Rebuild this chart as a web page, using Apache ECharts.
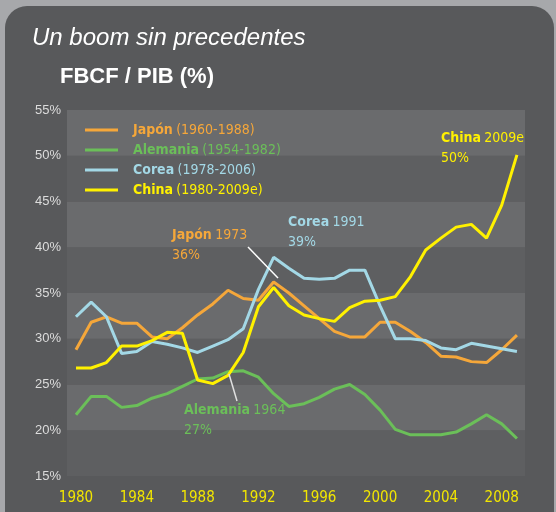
<!DOCTYPE html>
<html>
<head>
<meta charset="utf-8">
<script src="https://cdn.jsdelivr.net/npm/echarts@6/dist/echarts.min.js"></script>
<style>
  html, body { margin: 0; padding: 0; background: #a7a8ab; }
  #chart { width: 556px; height: 512px; }
</style>
</head>
<body>
<div id="chart"></div>
<script>
// FBCF / PIB (%) -- x axis is the year 1980..2009 of the chart scale
const years = [1980, 1981, 1982, 1983, 1984, 1985, 1986, 1987, 1988, 1989,
               1990, 1991, 1992, 1993, 1994, 1995, 1996, 1997, 1998, 1999,
               2000, 2001, 2002, 2003, 2004, 2005, 2006, 2007, 2008, 2009];
const japon = [28.8, 31.8, 32.4, 31.7, 31.7, 30.2, 30.0, 31.2, 32.6, 33.8,
               35.3, 34.4, 34.2, 36.2, 35.0, 33.6, 32.2, 30.8, 30.2, 30.2,
               31.8, 31.8, 30.8, 29.6, 28.1, 28.0, 27.5, 27.4, 28.8, 30.4];
const alemania = [21.7, 23.7, 23.7, 22.5, 22.7, 23.5, 24.0, 24.8, 25.6, 25.7,
                  26.4, 26.5, 25.8, 24.0, 22.6, 22.9, 23.6, 24.5, 25.0, 23.9,
                  22.2, 20.1, 19.5, 19.5, 19.5, 19.8, 20.7, 21.7, 20.7, 19.1];
const corea = [32.4, 34.0, 32.4, 28.4, 28.6, 29.7, 29.4, 29.0, 28.5, 29.2,
               29.9, 31.1, 35.4, 38.9, 37.7, 36.6, 36.5, 36.6, 37.5, 37.5,
               33.6, 30.0, 30.0, 29.8, 29.0, 28.8, 29.5, 29.2, 28.9, 28.6];
const china = [26.8, 26.8, 27.4, 29.2, 29.2, 29.8, 30.7, 30.6, 25.5, 25.1,
               26.0, 28.5, 33.5, 35.6, 33.6, 32.6, 32.2, 31.9, 33.4, 34.1,
               34.2, 34.6, 36.8, 39.7, 41.0, 42.2, 42.5, 41.0, 44.6, 50.1];
const xTicks = [1980, 1984, 1988, 1992, 1996, 2000, 2004, 2008];

const narrow = '"Liberation Sans Narrow", "DejaVu Sans Condensed", sans-serif';
const sans = '"Liberation Sans", Arial, sans-serif';

const seriesInfo = [
  { name: 'Japón', key: 'j', range: '(1960-1988)', color: '#f5a73a', data: japon },
  { name: 'Alemania', key: 'a', range: '(1954-1982)', color: '#6bbf59', data: alemania },
  { name: 'Corea', key: 'k', range: '(1978-2006)', color: '#a3d8e6', data: corea },
  { name: 'China', key: 'c', range: '(1980-2009e)', color: '#fff100', data: china }
];

const legendRich = {};
seriesInfo.forEach(s => {
  legendRich[s.key + 'b'] = { color: s.color, fontWeight: 'bold', fontFamily: narrow, fontSize: 14, lineHeight: 15, padding: [0, 0, 0, 10] };
  legendRich[s.key] = { color: s.color, fontFamily: narrow, fontSize: 14, lineHeight: 15 };
});

function note(left, top, bold, rest, pct, color) {
  return {
    type: 'text', left: left, top: top, z: 100,
    style: {
      text: '{b|' + bold + '} {n|' + rest + '}\n{n|' + pct + '}',
      rich: {
        b: { fill: color, fontWeight: 'bold', fontFamily: narrow, fontSize: 14, lineHeight: 20 },
        n: { fill: color, fontFamily: narrow, fontSize: 14, lineHeight: 20 }
      }
    }
  };
}

const chart = echarts.init(document.getElementById('chart'));
chart.setOption({
  animation: false,
  backgroundColor: '#a7a8ab',
  graphic: [
    { type: 'rect', left: 5, top: 6, z: -10, shape: { width: 549, height: 520, r: [22, 22, 0, 0] }, style: { fill: '#58595b' } },
    { type: 'text', left: 32, top: 26, style: { text: 'Un boom sin precedentes', fill: '#ffffff', font: 'italic 24px ' + sans } },
    { type: 'text', left: 60, top: 66, style: { text: 'FBCF / PIB (%)', fill: '#ffffff', font: 'bold 22px ' + sans } },
    note(172, 228, 'Japón', '1973', '36%', '#f5a73a'),
    note(288, 215, 'Corea', '1991', '39%', '#a3d8e6'),
    note(441, 131, 'China', '2009e', '50%', '#fff100'),
    note(184, 403, 'Alemania', '1964', '27%', '#6bbf59'),
    { type: 'line', z: 100, shape: { x1: 248, y1: 247, x2: 278, y2: 278 }, style: { stroke: '#ffffff', lineWidth: 1.5 } },
    { type: 'line', z: 100, shape: { x1: 229, y1: 374, x2: 237, y2: 401 }, style: { stroke: '#e0e0e0', lineWidth: 1.5 } }
  ],
  grid: { left: 67, right: 31, top: 110, bottom: 36 },
  legend: {
    orient: 'vertical',
    left: 80,
    top: 118,
    itemGap: 6,
    itemWidth: 33,
    itemHeight: 3,
    icon: 'rect',
    data: seriesInfo.map(s => s.name),
    formatter: name => {
      const s = seriesInfo.find(x => x.name === name);
      return '{' + s.key + 'b|' + s.name + '} {' + s.key + '|' + s.range + '}';
    },
    textStyle: { rich: legendRich }
  },
  xAxis: {
    type: 'value',
    min: 1979.41,
    max: 2009.53,
    axisLine: { show: false },
    axisTick: { show: false },
    splitLine: { show: false },
    axisLabel: {
      customValues: xTicks,
      formatter: v => String(v),
      color: '#f2e600',
      fontFamily: narrow,
      fontSize: 15,
      margin: 15
    }
  },
  yAxis: {
    type: 'value',
    min: 15,
    max: 55,
    interval: 5,
    axisLine: { show: false },
    axisTick: { show: false },
    splitLine: { show: false },
    splitArea: { show: true, areaStyle: { color: ['#5e5f61', '#6a6b6d'] } },
    axisLabel: {
      formatter: '{value}%',
      color: '#dcdcdc',
      fontFamily: sans,
      fontSize: 13,
      margin: 6
    }
  },
  series: seriesInfo.map((s, i) => ({
    name: s.name,
    type: 'line',
    showSymbol: false,
    z: 2 + i,
    color: s.color,
    lineStyle: { width: 3, color: s.color },
    data: years.map((y, j) => [y, s.data[j]])
  }))
});
</script>
</body>
</html>
